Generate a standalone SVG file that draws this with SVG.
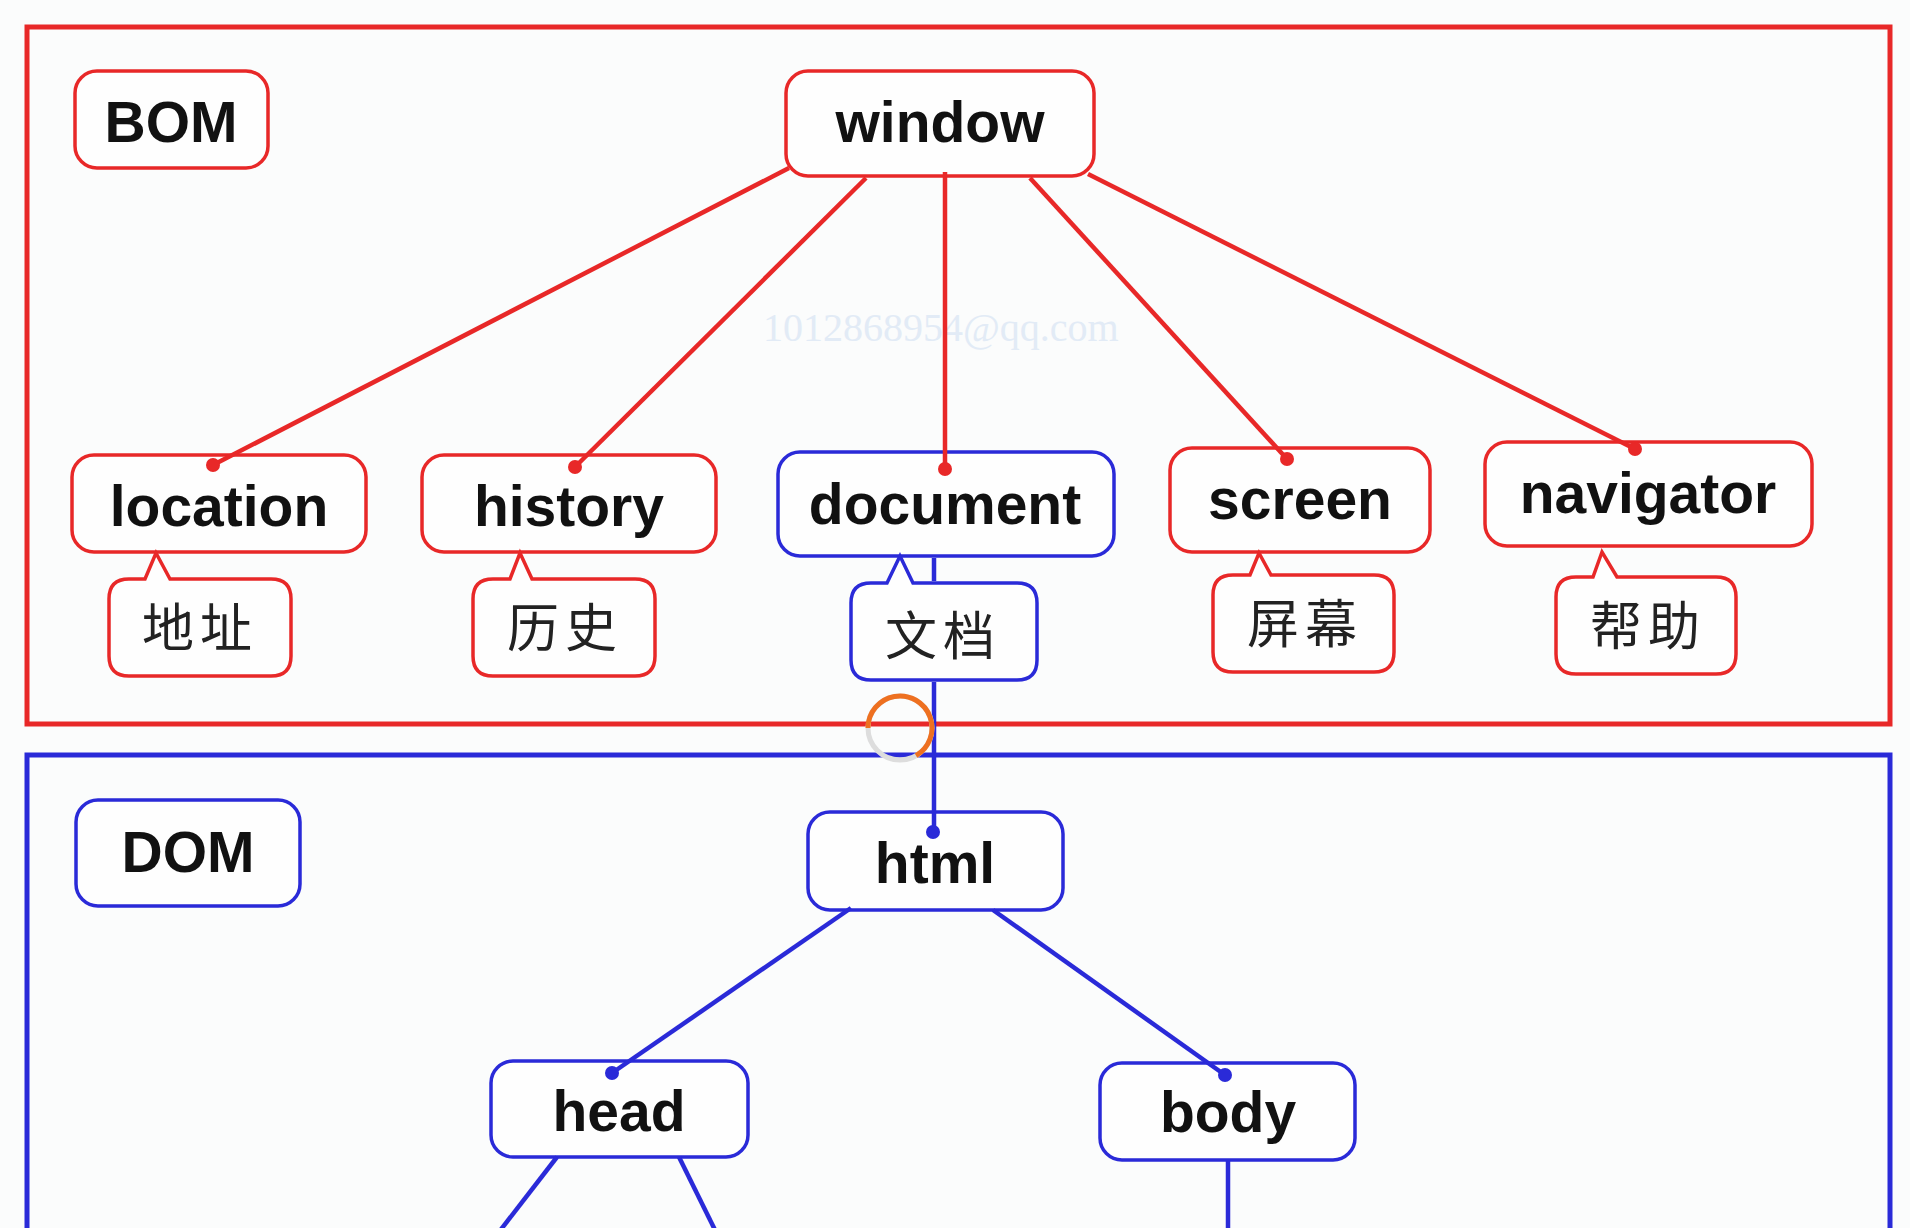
<svg xmlns="http://www.w3.org/2000/svg" width="1910" height="1228" viewBox="0 0 1910 1228">
<style>
.frame{fill:none;stroke-width:5}
.rbox{fill:#fefefe;stroke:#e82828;stroke-width:3.5}
.bbox{fill:#fefefe;stroke:#2a2ad8;stroke-width:3.5}
.lbl{font-family:"Liberation Sans",Arial,sans-serif;font-weight:bold;font-size:57px;fill:#111;text-anchor:middle}
.cjk{font-family:"Noto Sans CJK SC",sans-serif;font-size:52px;fill:#222;text-anchor:middle;letter-spacing:6px}
.rl{stroke:#e82828;stroke-width:4.5;fill:none}
.bl{stroke:#2a2ad8;stroke-width:4.5;fill:none}
.rd{fill:#e82828}
.bd{fill:#2a2ad8}
</style>
<rect x="0" y="0" width="1910" height="1228" fill="#fbfcfc"/>
<g id="frames">
<rect id="bom-frame" class="frame" x="27" y="27" width="1863" height="697" stroke="#e82828" fill="#fefefe"/>
<path id="dom-frame" class="frame" d="M27 1232 L27 755 L1890 755 L1890 1232" stroke="#2a2ad8"/>
</g>
<text x="763" y="341" font-family="Liberation Serif,serif" font-size="40" fill="#e2ebf6">1012868954@qq.com</text>
<g id="node-BOM"><rect class="rbox" x="75" y="71" width="193" height="97" rx="22"/><text class="lbl" x="171" y="142">BOM</text></g>
<g id="node-window"><rect class="rbox" x="786" y="71" width="308" height="105" rx="22"/><text class="lbl" x="940" y="142">window</text></g>
<g id="node-location"><rect class="rbox" x="72" y="455" width="294" height="97" rx="22"/><text class="lbl" x="219" y="526">location</text></g>
<g id="node-history"><rect class="rbox" x="422" y="455" width="294" height="97" rx="22"/><text class="lbl" x="569" y="526">history</text></g>
<g id="node-document"><rect class="bbox" x="778" y="452" width="336" height="104" rx="22"/><text class="lbl" x="945" y="524">document</text></g>
<g id="node-screen"><rect class="rbox" x="1170" y="448" width="260" height="104" rx="22"/><text class="lbl" x="1300" y="519">screen</text></g>
<g id="node-navigator"><rect class="rbox" x="1485" y="442" width="327" height="104" rx="22"/><text class="lbl" x="1648" y="513">navigator</text></g>
<g id="note-dizhi"><path class="rbox" d="M129 579 L145 579 L156 553 L170 579 L271 579 Q291 579 291 599 L291 656 Q291 676 271 676 L129 676 Q109 676 109 656 L109 599 Q109 579 129 579 Z"/><text class="cjk" x="200" y="647">地址</text></g>
<g id="note-lishi"><path class="rbox" d="M493 579 L510 579 L520 553 L532 579 L635 579 Q655 579 655 599 L655 656 Q655 676 635 676 L493 676 Q473 676 473 656 L473 599 Q473 579 493 579 Z"/><text class="cjk" x="565" y="647">历史</text></g>
<g id="note-wendang"><path class="bbox" d="M871 583 L887 583 L900 556 L913 583 L1017 583 Q1037 583 1037 603 L1037 660 Q1037 680 1017 680 L871 680 Q851 680 851 660 L851 603 Q851 583 871 583 Z"/><text class="cjk" x="943" y="655">文档</text></g>
<g id="note-pingmu"><path class="rbox" d="M1233 575 L1250 575 L1259 553 L1271 575 L1374 575 Q1394 575 1394 595 L1394 652 Q1394 672 1374 672 L1233 672 Q1213 672 1213 652 L1213 595 Q1213 575 1233 575 Z"/><text class="cjk" x="1305" y="643">屏幕</text></g>
<g id="note-bangzhu"><path class="rbox" d="M1576 577 L1593 577 L1602 552 L1617 577 L1716 577 Q1736 577 1736 597 L1736 654 Q1736 674 1716 674 L1576 674 Q1556 674 1556 654 L1556 597 Q1556 577 1576 577 Z"/><text class="cjk" x="1648" y="645">帮助</text></g>
<g id="node-DOM"><rect class="bbox" x="76" y="800" width="224" height="106" rx="22"/><text class="lbl" x="188" y="872">DOM</text></g>
<g id="node-html"><rect class="bbox" x="808" y="812" width="255" height="98" rx="22"/><text class="lbl" x="935" y="883">html</text></g>
<g id="node-head"><rect class="bbox" x="491" y="1061" width="257" height="96" rx="22"/><text class="lbl" x="619" y="1131">head</text></g>
<g id="node-body"><rect class="bbox" x="1100" y="1063" width="255" height="97" rx="22"/><text class="lbl" x="1228" y="1132">body</text></g>
<g id="connectors">
<line class="rl" x1="789" y1="168" x2="213" y2="465"/><circle class="rd" cx="213" cy="465" r="7"/>
<line class="rl" x1="866" y1="178" x2="575" y2="467"/><circle class="rd" cx="575" cy="467" r="7"/>
<line class="rl" x1="945" y1="172" x2="945" y2="469"/><circle class="rd" cx="945" cy="469" r="7"/>
<line class="rl" x1="1030" y1="178" x2="1287" y2="459"/><circle class="rd" cx="1287" cy="459" r="7"/>
<line class="rl" x1="1088" y1="174" x2="1635" y2="449"/><circle class="rd" cx="1635" cy="449" r="7"/>
<line class="bl" x1="934" y1="558" x2="934" y2="581"/>
<line class="bl" x1="934" y1="682" x2="934" y2="832"/><circle class="bd" cx="933" cy="832" r="7"/>
<line class="bl" x1="851" y1="908" x2="612" y2="1073"/><circle class="bd" cx="612" cy="1073" r="7"/>
<line class="bl" x1="993" y1="910" x2="1225" y2="1075"/><circle class="bd" cx="1225" cy="1075" r="7"/>
<line class="bl" x1="557" y1="1157" x2="499" y2="1232"/>
<line class="bl" x1="679" y1="1157" x2="716" y2="1232"/>
<line class="bl" x1="1228" y1="1160" x2="1228" y2="1232"/>
</g>
<g id="spinner">
<circle cx="900" cy="728" r="32" fill="none" stroke="#dddddd" stroke-width="5"/>
<path d="M868 728 A32 32 0 1 1 916 755.7" fill="none" stroke="#ee7020" stroke-width="5"/>
</g>
</svg>
